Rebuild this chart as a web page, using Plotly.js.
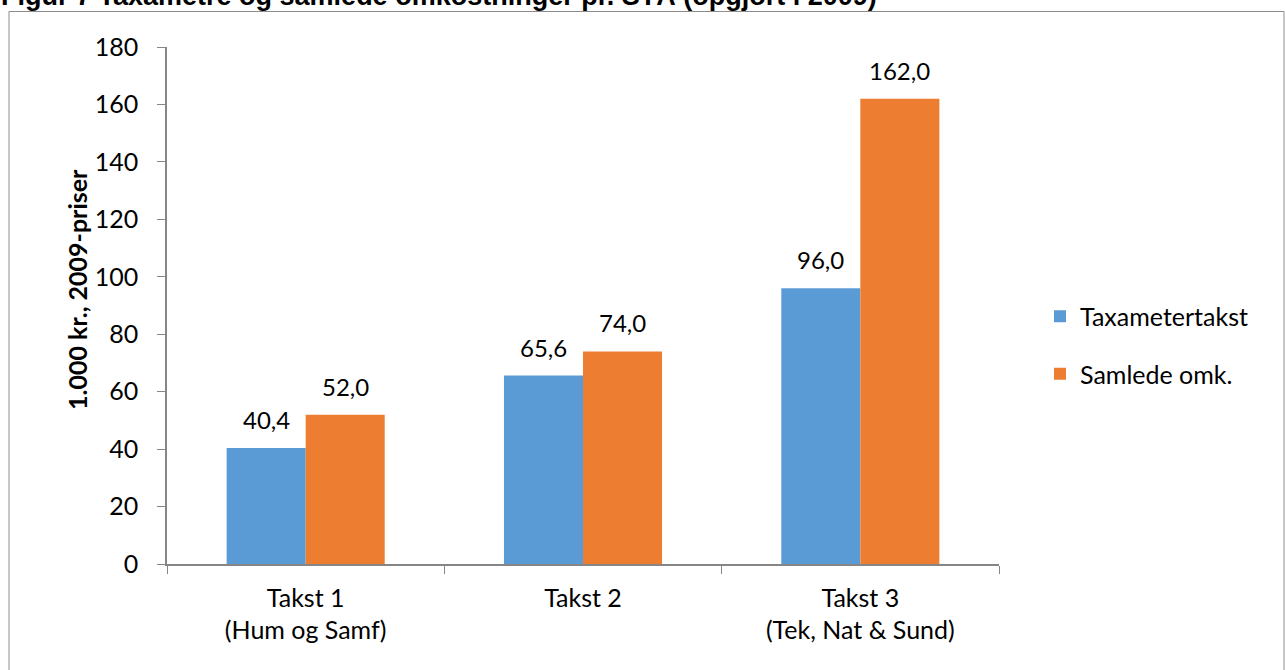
<!DOCTYPE html>
<html>
<head>
<meta charset="utf-8">
<script src="https://cdn.plot.ly/plotly-3.0.1.min.js"></script>
<style>html,body{margin:0;padding:0;background:#fff;}#chart{width:1285px;height:670px;}</style>
</head>
<body>
<div id="chart"></div>
<script>
const categories = ["Takst 1<br>(Hum og Samf)", "Takst 2", "Takst 3<br>(Tek, Nat & Sund)"];
const taxameter = [40.4, 65.6, 96.0];
const samlede = [52.0, 74.0, 162.0];
const seriesNames = ["Taxametertakst", "Samlede omk."];
const yTicks = [0, 20, 40, 60, 80, 100, 120, 140, 160, 180];

const font = "Lato, 'Open Sans', sans-serif";
const W = 832, H = 517, L = 167, T = 47;
const px = x => (x - L) / W;
const py = y => (T + H - y) / H;
const BARGAP = 0.43;
const half = (1 - BARGAP) / 4;

const traces = [
  {type: 'bar', name: seriesNames[0], legendgroup: 'a', x: categories, y: taxameter, marker: {color: '#5b9bd5'}},
  {type: 'bar', name: seriesNames[1], legendgroup: 'b', x: categories, y: samlede, marker: {color: '#ed7d31'}}
];

const labelAnns = [];
[taxameter, samlede].forEach((vals, s) => {
  vals.forEach((v, i) => {
    labelAnns.push({xref: 'x', yref: 'y', x: i + (s === 0 ? -half : half), y: v,
      text: v.toFixed(1).replace('.', ','), showarrow: false, yanchor: 'bottom', yshift: 12,
      font: {family: font, size: 24, color: '#000'}});
  });
});

const layout = {
  width: 1285, height: 670,
  margin: {l: L, r: 1285 - L - W, t: T, b: 670 - T - H},
  paper_bgcolor: '#fff', plot_bgcolor: '#fff',
  separators: ',.',
  barmode: 'group', bargap: BARGAP, bargroupgap: 0,
  font: {family: font, size: 25, color: '#000'},
  showlegend: true,
  legend: {x: px(1040), y: py(345), yanchor: 'middle', xanchor: 'left',
           font: {family: font, size: 25, color: '#000'}, tracegroupgap: 22,
           itemwidth: 30, bgcolor: 'rgba(0,0,0,0)'},
  xaxis: {showline: true, linecolor: '#868686', linewidth: 1.5, ticks: 'outside', ticklen: 8,
          tickcolor: '#868686', tickson: 'boundaries', showgrid: false, ticklabelstandoff: 11,
          tickfont: {family: font, size: 25, color: '#000'}},
  yaxis: {range: [0, 180], tickvals: yTicks, showline: true, linecolor: '#868686', linewidth: 1.5,
          ticks: 'outside', ticklen: 8, tickcolor: '#868686', showgrid: false, zeroline: false,
          tickfont: {family: font, size: 25, color: '#000'}, ticklabelstandoff: 14},
  shapes: [
    {type: 'rect', xref: 'paper', yref: 'paper', x0: px(9), x1: px(1284), y0: py(700), y1: py(11.5),
     line: {color: '#8c8c8c', width: 1}, fillcolor: 'rgba(0,0,0,0)', layer: 'below'}
  ],
  annotations: [
    {xref: 'paper', yref: 'paper', x: px(0), y: py(12), xanchor: 'left', yanchor: 'bottom',
     text: '<b>Figur 7 Taxametre og samlede omkostninger pr. STÅ (opgjort i 2009)</b>', showarrow: false,
     font: {family: "'Liberation Sans', Arial, sans-serif", size: 27, color: '#000'}, borderpad: 0},
    {xref: 'paper', yref: 'paper', x: px(77), y: py(290), xanchor: 'center', yanchor: 'middle',
     text: '<b>1.000 kr., 2009-priser</b>', textangle: -90, showarrow: false,
     font: {family: font, size: 25, color: '#000'}}
  ].concat(labelAnns)
};

Plotly.newPlot('chart', traces, layout, {displayModeBar: false});
</script>
</body>
</html>
